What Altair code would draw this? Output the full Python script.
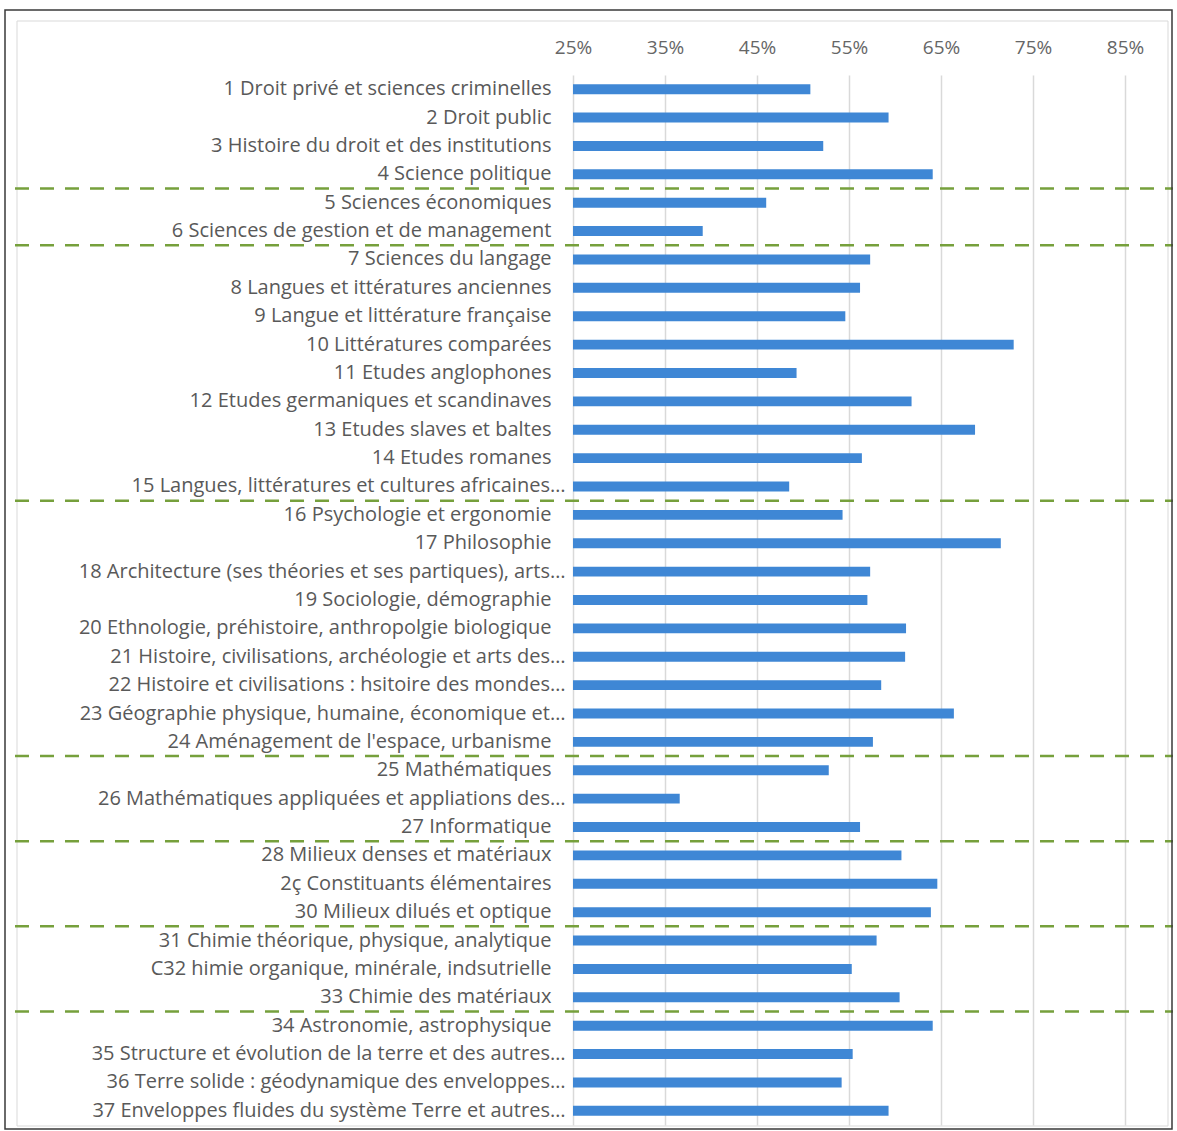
import altair as alt
import pandas as pd

labels = [
    "1 Droit privé et sciences criminelles",
    "2 Droit public",
    "3 Histoire du droit et des institutions",
    "4 Science politique",
    "5 Sciences économiques",
    "6 Sciences de gestion et de management",
    "7 Sciences du langage",
    "8 Langues et ittératures anciennes",
    "9 Langue et littérature française",
    "10 Littératures comparées",
    "11 Etudes anglophones",
    "12 Etudes germaniques et scandinaves",
    "13 Etudes slaves et baltes",
    "14 Etudes romanes",
    "15 Langues, littératures et cultures africaines…",
    "16 Psychologie et ergonomie",
    "17 Philosophie",
    "18 Architecture (ses théories et ses partiques), arts…",
    "19 Sociologie, démographie",
    "20 Ethnologie, préhistoire, anthropolgie biologique",
    "21 Histoire, civilisations, archéologie et arts des…",
    "22 Histoire et civilisations : hsitoire des mondes…",
    "23 Géographie physique, humaine, économique et…",
    "24 Aménagement de l'espace, urbanisme",
    "25 Mathématiques",
    "26 Mathématiques appliquées et appliations des…",
    "27 Informatique",
    "28 Milieux denses et matériaux",
    "2ç Constituants élémentaires",
    "30 Milieux dilués et optique",
    "31 Chimie théorique, physique, analytique",
    "C32 himie organique, minérale, indsutrielle",
    "33 Chimie des matériaux",
    "34 Astronomie, astrophysique",
    "35 Structure et évolution de la terre et des autres…",
    "36 Terre solide : géodynamique des enveloppes…",
    "37 Enveloppes fluides du système Terre et autres…",
]

values = [
    0.508, 0.593, 0.522, 0.641, 0.460, 0.391, 0.573, 0.562, 0.546, 0.729,
    0.493, 0.618, 0.687, 0.564, 0.485, 0.543, 0.715, 0.573, 0.570, 0.612,
    0.611, 0.585, 0.664, 0.576, 0.528, 0.366, 0.562, 0.607, 0.646, 0.639,
    0.580, 0.553, 0.605, 0.641, 0.554, 0.542, 0.593,
]

group_ends = [4, 6, 15, 24, 27, 30, 33]
x_ticks = [0.25, 0.35, 0.45, 0.55, 0.65, 0.75, 0.85]
x_domain = [0.25, 0.90]

W = 598
H = 1050
N = len(labels)
FONT = "Open Sans"

df = pd.DataFrame({"label": labels, "value": values})
seps = pd.DataFrame({"pos": [g + 0.5 for g in group_ends]})
frame = pd.DataFrame({"a": [0]})

bars = alt.Chart(df).mark_bar(color="#3F87D5").encode(
    x=alt.X(
        "value:Q",
        scale=alt.Scale(domain=x_domain, zero=False, nice=False),
        axis=alt.Axis(
            orient="top",
            format=".0%",
            values=x_ticks,
            grid=True,
            gridColor="#D9D9D9",
            gridWidth=1.5,
            ticks=False,
            domain=False,
            labelFlush=False,
            labelFont=FONT,
            labelFontSize=19,
            labelColor="#666666",
            labelPadding=18,
            title=None,
        ),
    ),
    x2=alt.datum(0.25),
    y=alt.Y(
        "label:N",
        sort=None,
        scale=alt.Scale(paddingInner=0.65, paddingOuter=0.325),
        axis=alt.Axis(
            ticks=False,
            domain=False,
            labelFont=FONT,
            labelFontSize=20,
            labelColor="#595959",
            labelLimit=600,
            labelPadding={
                "condition": {"test": "indexof(datum.value, '…') >= 0", "value": 8},
                "value": 22,
            },
            title=None,
        ),
    ),
)

rules = alt.Chart(seps).mark_rule(
    color="#76A03C", strokeWidth=2.5, strokeDash=[14, 11]
).encode(
    y=alt.Y(
        "pos:Q",
        scale=alt.Scale(domain=[0.5, N + 0.5], reverse=True, zero=False, nice=False),
        axis=None,
    ),
    x=alt.value(-558),
    x2=alt.value(W + 2),
)

outer = alt.Chart(frame).mark_rect(
    filled=False, stroke="#3A3A3A", strokeWidth=1.5
).encode(
    x=alt.value(-568), x2=alt.value(W + 1), y=alt.value(-65), y2=alt.value(H + 4)
)

inner = alt.Chart(frame).mark_rect(
    filled=False, stroke="#D9D9D9", strokeWidth=1
).encode(
    x=alt.value(-556), x2=alt.value(W - 3), y=alt.value(-54), y2=alt.value(H + 1)
)

chart = (
    alt.layer(inner, bars, rules, outer)
    .resolve_scale(y="independent")
    .properties(
        width=W,
        height=H,
        padding={"left": 573, "top": 75, "right": 6, "bottom": 6},
        autosize=alt.AutoSizeParams(type="none"),
        background="white",
    )
    .configure_view(stroke=None)
)

chart.save("out.html", embed_options={"renderer": "svg", "actions": False})
